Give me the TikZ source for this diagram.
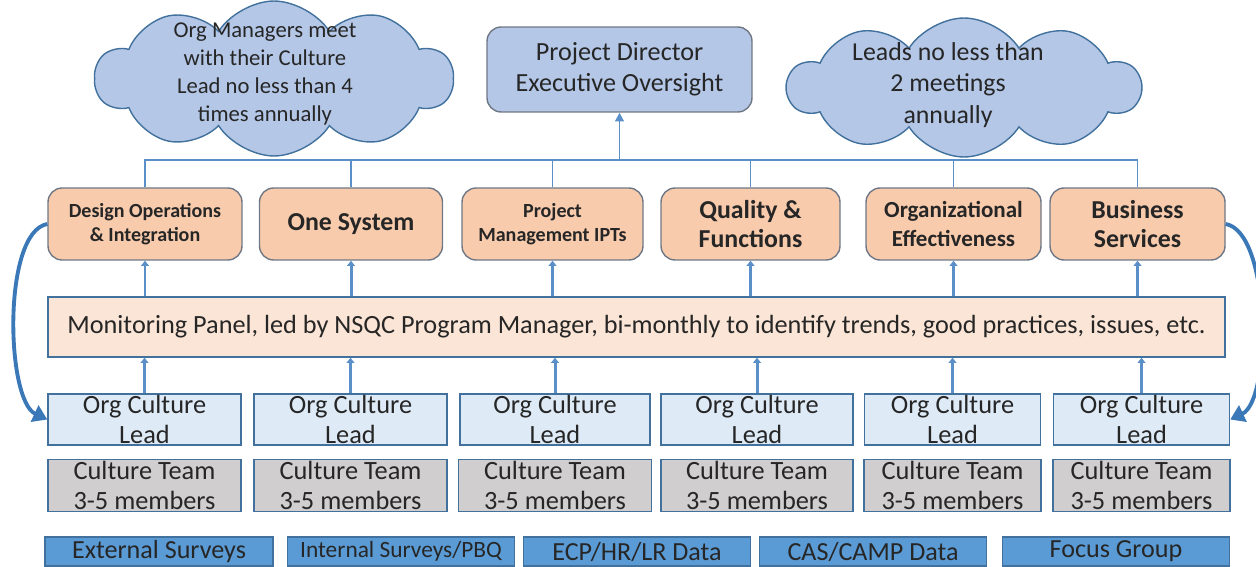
\documentclass[tikz,border=0pt]{standalone}
\usepackage{fontspec}
\setmainfont{Carlito}
\usepackage{xcolor}
\usetikzlibrary{shapes,arrows.meta,positioning}

\definecolor{peach}{HTML}{F8CBAD}
\definecolor{panelfill}{HTML}{FBE5D6}
\definecolor{leadfill}{HTML}{DEEBF7}
\definecolor{teamfill}{HTML}{D0CECE}
\definecolor{datafill}{HTML}{5B9BD5}
\definecolor{cloudfill}{HTML}{B4C7E7}
\definecolor{edgeblue}{HTML}{41719C}
\definecolor{edgegray}{HTML}{6F7784}
\definecolor{linecol}{HTML}{5B8FC7}
\definecolor{curvecol}{HTML}{3A78B8}

\tikzset{
  txt/.style={text=black!85, align=center, inner sep=0pt},
  cloudbox/.style={draw=edgeblue, fill=cloudfill, line width=0.8pt, cloud, cloud puffs=10, cloud puff arc=115, cloud ignores aspect},
  cloudtext/.style={txt, font=\fontsize{14.7}{18}\selectfont},
  dirbox/.style={draw=edgegray, fill=cloudfill, line width=0.8pt, rounded corners=8pt, minimum width=5.3cm, minimum height=1.7cm, txt, font=\fontsize{14.9}{17.6}\selectfont},
  topbox/.style={draw=edgegray, fill=peach, line width=0.8pt, rounded corners=8pt, minimum height=1.44cm, txt},
  topsmall/.style={font=\bfseries\fontsize{11.4}{14}\selectfont},
  topbig/.style={font=\bfseries\fontsize{14.7}{17}\selectfont},
  panelbox/.style={draw=edgeblue, fill=panelfill, line width=0.8pt, minimum width=23.54cm, minimum height=1.2cm, txt, font=\fontsize{14.95}{17}\selectfont},
  leadbox/.style={draw=edgeblue, fill=leadfill, line width=0.8pt, minimum height=1.02cm, txt, font=\fontsize{15}{17}\selectfont},
  teambox/.style={draw=edgeblue, fill=teamfill, line width=0.8pt, minimum height=1.04cm, txt, font=\fontsize{15}{17}\selectfont},
  databox/.style={draw=edgeblue, fill=datafill, line width=0.8pt, minimum width=4.54cm, minimum height=0.58cm, txt, font=\fontsize{14.85}{17}\selectfont},
  busline/.style={draw=linecol, line width=1.1pt},
  uparrow/.style={draw=linecol, line width=1.7pt, -{Triangle[length=3pt,width=4.5pt]}},
  curvearrow/.style={draw=curvecol, line width=2.2pt, -{Triangle[length=8pt,width=10pt]}}
}

\begin{document}
\begin{tikzpicture}[x=0.02cm, y=-0.02cm]
\useasboundingbox (0,0) rectangle (1256,567);
% clouds and director
\node[cloudbox, minimum width=7.16cm, minimum height=3.1cm] (cloudL) at (274,78.5) {};
\node[cloudtext, font=\fontsize{12.9}{16}\selectfont] (cloudLt) at (265,74)
    {Org Managers meet\\with their Culture\\Lead no less than 4\\times annually};
\node[cloudbox, minimum width=7.05cm, minimum height=2.78cm] (cloudR) at (964,87.5) {};
\node[cloudtext] (cloudRt) at (948,85) {Leads no less than\\2 meetings\\annually};
\node[dirbox] (dir) at (619.5,69.5) {Project Director\\Executive Oversight};
% top row
\node[topbox, topsmall, minimum width=3.88cm] (top1) at (145,224) {Design Operations\\\& Integration};
\node[topbox, topbig, minimum width=3.66cm] (top2) at (351,224) {One System};
\node[topbox, topsmall, minimum width=3.62cm] (top3) at (552.5,224) {Project\\Management IPTs};
\node[topbox, topbig, minimum width=3.58cm] (top4) at (750.5,224) {Quality \&\\Functions};
\node[topbox, font=\bfseries\fontsize{13.1}{16}\selectfont, minimum width=3.5cm] (top5) at (953.5,224) {Organizational\\Effectiveness};
\node[topbox, topbig, minimum width=3.5cm] (top6) at (1137.5,224) {Business\\Services};
% panel
\node[panelbox] (panel) at (636.5,327)
    {Monitoring Panel, led by NSQC Program Manager, bi-monthly to identify trends, good practices, issues, etc.};
% leads and teams
\node[leadbox, minimum width=3.86cm] (lead1) at (144.5,419.5) {Org Culture\\Lead};
\node[leadbox, minimum width=3.86cm] (lead2) at (350.5,419.5) {Org Culture\\Lead};
\node[leadbox, minimum width=3.8cm] (lead3) at (555,419.5) {Org Culture\\Lead};
\node[leadbox, minimum width=3.84cm] (lead4) at (757,419.5) {Org Culture\\Lead};
\node[leadbox, minimum width=3.52cm] (lead5) at (952.5,419.5) {Org Culture\\Lead};
\node[leadbox, minimum width=3.52cm] (lead6) at (1141.5,419.5) {Org Culture\\Lead};
\node[teambox, minimum width=3.86cm, below=0.26cm of lead1] (team1) {Culture Team\\3-5 members};
\node[teambox, minimum width=3.86cm, below=0.26cm of lead2] (team2) {Culture Team\\3-5 members};
\node[teambox, minimum width=3.86cm, below=0.26cm of lead3] (team3) {Culture Team\\3-5 members};
\node[teambox, minimum width=3.84cm, below=0.26cm of lead4] (team4) {Culture Team\\3-5 members};
\node[teambox, minimum width=3.54cm, below=0.26cm of lead5] (team5) {Culture Team\\3-5 members};
\node[teambox, minimum width=3.54cm, below=0.26cm of lead6] (team6) {Culture Team\\3-5 members};
% data sources
\node[databox, minimum width=4.56cm] (ext) at (159,551.5) {External Surveys};
\node[databox, font=\fontsize{13.3}{15}\selectfont] (int) at (401,551.5) {Internal Surveys/PBQ};
\node[databox] (ecp) at (637,551.5) {ECP/HR/LR Data};
\node[databox] (cas) at (873,551.5) {CAS/CAMP Data};
\node[databox] (focus) at (1116,551.5) {Focus Group};
% connectors
\coordinate (bus) at (0,160);
\draw[busline] (top1.north) |- (top6.north |- bus) -- (top6.north);
\draw[busline] (top2.north) -- (top2.north |- bus);
\draw[busline] (top3.north) -- (top3.north |- bus);
\draw[busline] (top4.north) -- (top4.north |- bus);
\draw[busline] (top5.north) -- (top5.north |- bus);
\draw[busline, -{Triangle[length=5pt,width=5pt]}] (dir.south |- bus) -- (dir.south);
\draw[uparrow] (panel.north -| top1) -- (top1.south);
\draw[uparrow] (panel.north -| top2) -- (top2.south);
\draw[uparrow] (panel.north -| top3) -- (top3.south);
\draw[uparrow] (panel.north -| top4) -- (top4.south);
\draw[uparrow] (panel.north -| top5) -- (top5.south);
\draw[uparrow] (panel.north -| top6) -- (top6.south);
\draw[uparrow] (lead1.north) -- (lead1.north |- panel.south);
\draw[uparrow] (lead2.north) -- (lead2.north |- panel.south);
\draw[uparrow] (lead3.north) -- (lead3.north |- panel.south);
\draw[uparrow] (lead4.north) -- (lead4.north |- panel.south);
\draw[uparrow] (lead5.north) -- (lead5.north |- panel.south);
\draw[uparrow] (lead6.north) -- (lead6.north |- panel.south);
\draw[curvearrow] (top1.west) to[out=190, in=155, looseness=0.6] (lead1.west);
\draw[curvearrow] (top6.east) to[out=-10, in=25, looseness=0.6] (lead6.east);
\end{tikzpicture}
\end{document}
